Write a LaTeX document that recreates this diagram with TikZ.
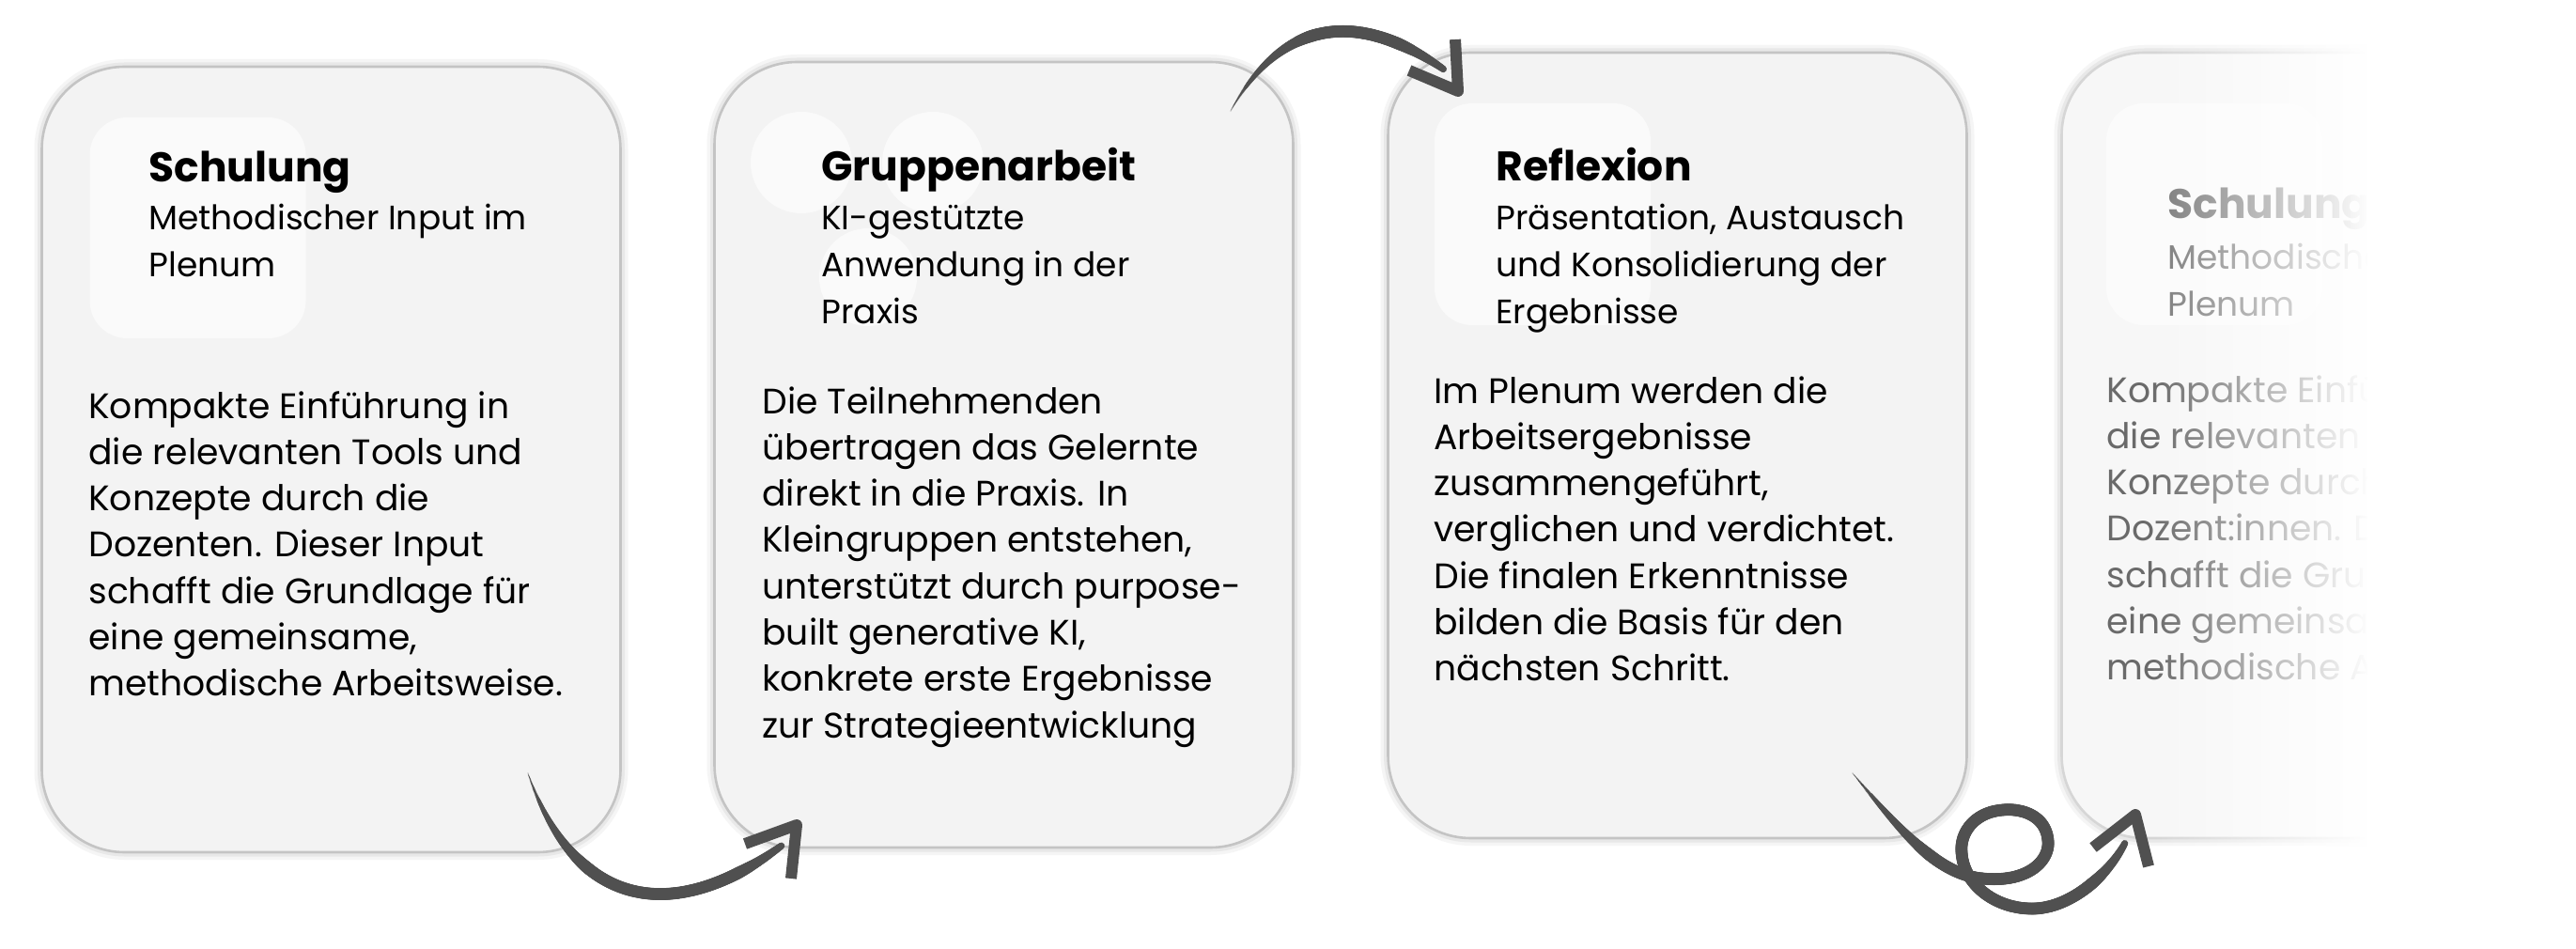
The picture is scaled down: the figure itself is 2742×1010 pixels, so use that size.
\documentclass[tikz,border=0pt]{standalone}
\usepackage{fontspec}
\setmainfont{Poppins}
\usetikzlibrary{decorations.markings,fadings}
\definecolor{cardfill}{HTML}{F3F3F3}
\definecolor{cardline}{HTML}{C4C4C4}
\definecolor{ink}{HTML}{505050}
\definecolor{fadetitle}{HTML}{7A7A7A}
\definecolor{fadebody}{HTML}{6A6A6A}
\tikzset{
  card/.style={draw=cardline, line width=1.3pt, fill=cardfill, rounded corners=44pt,
    minimum width=308pt, minimum height=418pt, inner sep=0pt,
    preaction={draw=black!4, line width=8pt},
    preaction={draw=black!9, line width=4.5pt}},
  ghostcard/.style={card, fill=white!97!black, draw=black!16},
  panel/.style={fill=white, fill opacity=0.6, rounded corners=20pt, inner sep=0pt},
  blob/.style={circle, fill=white, fill opacity=0.6, inner sep=0pt},
  ttl/.style={anchor=base west, inner sep=0pt, font=\fontsize{22}{27}\selectfont\bfseries},
  sub/.style={anchor=base west, inner sep=0pt, align=left, font=\fontsize{18}{25}\selectfont},
  body/.style={anchor=base west, inner sep=0pt, align=left, font=\fontsize{18.85}{24.65}\selectfont},
  brush/.style={postaction={decorate}, decoration={markings,
    mark=between positions 0 and 1 step 0.6pt with {%
      \pgfmathsetmacro\br{min(3.2, 0.25+0.05*\pgfkeysvalueof{/pgf/decoration/mark info/distance from start}, 1.8+0.05*(\pgfdecoratedpathlength-\pgfkeysvalueof{/pgf/decoration/mark info/distance from start}))}%
      \fill[ink] (0,0) circle (\br pt);}}},
  head/.style={draw=ink, line width=6pt, line join=round}
}
\begin{document}
\begin{tikzpicture}[x=0.5pt, y=-0.5pt]
\useasboundingbox (0,0) rectangle (2742,1010);
\fill[white] (0,0) rectangle (2742,1010);

% cards
\node[card] (c1) at (352.5,489) {};
\node[card] (c2) at (1068.5,484) {};
\node[card] (c3) at (1785.5,474) {};
\node[ghostcard] (c4) at (2502.5,474) {};

% header panels
\node[panel, minimum width=115pt, minimum height=117.5pt] (p1) at (210.5,242.5) {};
\node[blob, minimum size=54pt] (g1) at (853,173) {};
\node[blob, minimum size=54pt] (g2) at (993,173) {};
\node[blob, minimum size=52pt] (g3) at (924,295) {};
\node[panel, minimum width=115pt, minimum height=118pt] (p3) at (1642,228) {};
\node[panel, minimum width=115pt, minimum height=118pt] (p4) at (2357,228) {};

% (multi-line nodes are anchored at the baseline of their last line)
% card 1
\node[ttl] (t1) at (158,194) {Schulung};
\node[sub] (s1) at (158,295) {Methodischer Input im\\Plenum};
\node[body] (b1) at (94,740.8) {Kompakte Einführung in\\die relevanten Tools und\\Konzepte durch die\\Dozenten. Dieser Input\\schafft die Grundlage für\\eine gemeinsame,\\methodische Arbeitsweise.};

% card 2
\node[ttl] (t2) at (874,193) {Gruppenarbeit};
\node[sub] (s2) at (874,345) {KI-gestützte\\Anwendung in der\\Praxis};
\node[body] (b2) at (811,785.1) {Die Teilnehmenden\\übertragen das Gelernte\\direkt in die Praxis. In\\Kleingruppen entstehen,\\unterstützt durch purpose-\\built generative KI,\\konkrete erste Ergebnisse\\zur Strategieentwicklung};

% card 3
\node[ttl] (t3) at (1592,193) {Reflexion};
\node[sub] (s3) at (1592,345) {Präsentation, Austausch\\und Konsolidierung der\\Ergebnisse};
\node[body] (b3) at (1526,724.8) {Im Plenum werden die\\Arbeitsergebnisse\\zusammengeführt,\\verglichen und verdichtet.\\Die finalen Erkenntnisse\\bilden die Basis für den\\nächsten Schritt.};

% card 4 (fading)
\node[ttl, text=fadetitle] (t4) at (2307,233) {Schulung};
\node[sub, text=fadetitle] (s4) at (2307,337) {Methodischer Input im\\Plenum};
\node[body, text=fadebody] (b4) at (2242,723.8) {Kompakte Einführung in\\die relevanten Tools und\\Konzepte durch die\\Dozent:innen. Dieser Input\\schafft die Grundlage für\\eine gemeinsame,\\methodische Arbeitsweise.};

\fill[white, path fading=west] (2290,0) rectangle (2522,1010);
\fill[white] (2520,0) rectangle (2742,1010);

% arrow 1 -> 2
\coordinate (a1s) at (562,823);
\coordinate (a1e) at (832,900);
\coordinate (a1v) at (848,878);
\coordinate (a1l) at (793,898);
\coordinate (a1r) at (842,935);
\path[brush] (a1s) .. controls (614,973) and (722,982) .. (a1e);
\draw[head] (a1l) -- (a1v) -- (a1r);

% arrow 2 -> 3
\coordinate (a2s) at (1310,118);
\coordinate (a2e) at (1537,74);
\coordinate (a2v) at (1552,97);
\coordinate (a2l) at (1500,75);
\coordinate (a2r) at (1549,42);
\path[brush] (a2s) .. controls (1360,28) and (1437,4) .. (a2e);
\draw[head] (a2l) -- (a2v) -- (a2r);

% arrow 3 -> 4 with loop
\coordinate (a3s) at (1972,823);
\coordinate (a3e) at (2262,897);
\coordinate (a3v) at (2273,867);
\coordinate (a3l) at (2228,902);
\coordinate (a3r) at (2287,922);
\path[brush] (a3s) .. controls (2020,880) and (2060,930) .. (2110,935)
  .. controls (2160,940) and (2182,915) .. (2180,895)
  .. controls (2178,868) and (2152,860) .. (2132,862)
  .. controls (2103,864) and (2086,885) .. (2088,907)
  .. controls (2090,942) and (2125,968) .. (2165,967)
  .. controls (2205,966) and (2245,930) .. (a3e);
\draw[head] (a3l) -- (a3v) -- (a3r);
\end{tikzpicture}
\end{document}
